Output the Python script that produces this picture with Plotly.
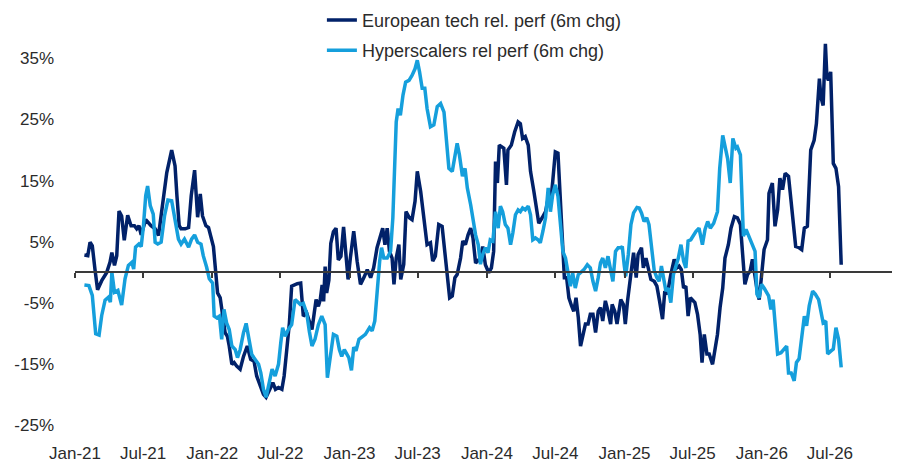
import plotly.graph_objects as go

# European tech relative performance, 6m change (%)
EU_DATES = [
    "2021-01-26", "2021-02-04", "2021-02-10", "2021-02-16", "2021-02-23", "2021-03-02", "2021-03-13",
    "2021-03-26", "2021-04-04", "2021-04-09", "2021-04-16", "2021-04-22", "2021-04-28", "2021-05-05",
    "2021-05-12", "2021-05-21", "2021-05-30", "2021-06-08", "2021-06-14", "2021-06-20", "2021-06-26",
    "2021-07-08", "2021-07-22", "2021-08-02", "2021-08-11", "2021-08-21", "2021-09-02", "2021-09-15",
    "2021-09-24", "2021-09-29", "2021-10-05", "2021-10-10", "2021-10-21", "2021-10-30", "2021-11-06",
    "2021-11-15", "2021-11-23", "2021-11-30", "2021-12-06", "2021-12-15", "2021-12-22", "2022-01-04",
    "2022-01-11", "2022-01-15", "2022-01-22", "2022-01-29", "2022-02-04", "2022-02-10", "2022-02-15",
    "2022-02-22", "2022-02-28", "2022-03-07", "2022-03-16", "2022-03-25", "2022-04-04", "2022-04-13",
    "2022-04-22", "2022-04-29", "2022-05-08", "2022-05-17", "2022-05-24", "2022-06-02", "2022-06-11",
    "2022-06-18", "2022-06-26", "2022-07-05", "2022-07-11", "2022-07-18", "2022-07-25", "2022-07-31",
    "2022-08-07", "2022-08-15", "2022-08-24", "2022-08-31", "2022-09-09", "2022-09-16", "2022-09-23",
    "2022-09-29", "2022-10-04", "2022-10-10", "2022-10-15", "2022-10-20", "2022-10-24", "2022-10-28",
    "2022-11-01", "2022-11-07", "2022-11-12", "2022-11-19", "2022-11-26", "2022-12-02", "2022-12-09",
    "2022-12-16", "2022-12-28", "2023-01-03", "2023-01-12", "2023-01-21", "2023-01-30", "2023-02-08",
    "2023-02-17", "2023-02-26", "2023-03-06", "2023-03-15", "2023-03-24", "2023-03-30", "2023-04-05",
    "2023-04-11", "2023-04-17", "2023-04-24", "2023-04-29", "2023-05-05", "2023-05-12", "2023-05-17",
    "2023-05-25", "2023-05-31", "2023-06-09", "2023-06-16", "2023-06-24", "2023-06-30", "2023-07-09",
    "2023-07-17", "2023-07-26", "2023-08-04", "2023-08-10", "2023-08-17", "2023-08-26", "2023-09-04",
    "2023-09-11", "2023-09-18", "2023-09-24", "2023-10-01", "2023-10-08", "2023-10-14", "2023-10-23",
    "2023-10-29", "2023-11-05", "2023-11-12", "2023-11-19", "2023-11-25", "2023-12-02", "2023-12-15",
    "2023-12-21", "2023-12-28", "2024-01-06", "2024-01-13", "2024-01-19", "2024-01-24", "2024-01-29",
    "2024-02-03", "2024-02-09", "2024-02-15", "2024-02-22", "2024-02-26", "2024-03-06", "2024-03-15",
    "2024-03-24", "2024-03-30", "2024-04-05", "2024-04-12", "2024-04-20", "2024-04-26", "2024-05-05",
    "2024-05-11", "2024-05-18", "2024-05-27", "2024-06-05", "2024-06-12", "2024-06-18", "2024-06-24",
    "2024-07-01", "2024-07-08", "2024-07-15", "2024-07-21", "2024-07-25", "2024-07-31", "2024-08-06",
    "2024-08-13", "2024-08-19", "2024-08-25", "2024-08-31", "2024-09-06", "2024-09-12", "2024-09-19",
    "2024-09-26", "2024-10-02", "2024-10-09", "2024-10-16", "2024-10-23", "2024-10-29", "2024-11-04",
    "2024-11-11", "2024-11-18", "2024-11-25", "2024-11-29", "2024-12-06", "2024-12-12", "2024-12-22",
    "2024-12-29", "2025-01-03", "2025-01-09", "2025-01-16", "2025-01-25", "2025-02-01", "2025-02-06",
    "2025-02-15", "2025-02-20", "2025-02-27", "2025-03-05", "2025-03-12", "2025-03-21", "2025-03-28",
    "2025-04-04", "2025-04-12", "2025-04-18", "2025-04-25", "2025-05-04", "2025-05-13", "2025-05-20",
    "2025-05-26", "2025-06-01", "2025-06-07", "2025-06-13", "2025-06-19", "2025-06-25", "2025-07-01",
    "2025-07-07", "2025-07-14", "2025-07-21", "2025-07-26", "2025-08-01", "2025-08-08", "2025-08-14",
    "2025-08-23", "2025-08-29", "2025-09-05", "2025-09-12", "2025-09-19", "2025-09-25", "2025-10-04",
    "2025-10-11", "2025-10-20", "2025-10-28", "2025-11-05", "2025-11-11", "2025-11-17", "2025-11-24",
    "2025-12-01", "2025-12-07", "2025-12-14", "2025-12-21", "2025-12-25", "2026-01-01", "2026-01-07",
    "2026-01-16", "2026-01-20", "2026-01-29", "2026-02-05", "2026-02-12", "2026-02-18", "2026-02-25",
    "2026-03-04", "2026-03-13", "2026-03-19", "2026-03-25", "2026-04-01", "2026-04-10", "2026-04-17",
    "2026-04-24", "2026-05-02", "2026-05-11", "2026-05-20", "2026-05-26", "2026-06-03", "2026-06-07",
    "2026-06-13", "2026-06-19", "2026-06-23", "2026-06-27", "2026-07-03", "2026-07-10", "2026-07-17",
    "2026-07-24", "2026-07-31",
]
EU_VALUES = [
    2.8, 2.7, 4.9, 4.3, 0.5, -2.9, -1.4,
    -0.1, 1.6, 3.2, 1.1, 2.7, 10.0, 9.2,
    5.2, 9.3, 7.6, 7.6, 7.1, 7.6, 6.1,
    8.6, 7.6, 7.1, 6.0, 10.3, 16.3, 20.0,
    17.4, 12.5, 7.6, 7.1, 7.1, 7.3, 12.5,
    16.7, 9.0, 12.8, 9.2, 7.6, 7.3, 4.2,
    -0.7, -3.4, -4.2, -7.2, -9.9, -10.5, -12.1,
    -15.1, -14.8, -15.4, -15.9, -13.8, -12.1, -14.3,
    -14.6, -17.0, -18.6, -20.0, -20.5, -19.2, -18.1,
    -19.2, -18.9, -19.2, -17.0, -12.7, -8.3, -2.3,
    -2.1, -1.9, -1.8, -7.2, -6.7, -8.3, -9.4,
    -6.7, -4.5, -5.6, -4.5, -2.1, -4.8, 0.9,
    -3.4, -1.3, 4.7, 6.6, 7.2, 2.0, 2.6,
    7.4, -1.2, 2.3, 6.7, 1.8, -2.0, -0.9,
    0.4, -0.9, 0.7, 4.0, 6.1, 7.2, 4.5,
    7.2, 3.4, 2.3, -2.0, 2.3, 4.5, -1.2,
    1.3, 9.9, 8.9, 8.6, 11.6, 16.5, 13.2,
    8.9, 4.5, 4.8, 1.8, 2.6, 7.8, 7.5,
    2.9, -0.4, -4.2, -3.9, -0.9, -0.4, 2.3,
    5.1, 4.5, 6.1, 7.2, 5.6, 1.5, 2.3,
    4.2, 1.2, -0.1, 0.7, 3.4, 18.1, 14.6,
    20.8, 20.5, 20.3, 14.3, 20.0, 20.8, 23.0,
    24.6, 24.3, 21.9, 22.2, 20.8, 16.5, 13.2,
    10.5, 8.0, 8.9, 9.9, 12.1, 11.0, 14.8,
    19.7, 19.5, 11.0, 3.4, -0.9, -0.9, -4.2,
    -5.5, -6.4, -4.2, -7.4, -12.1, -10.7, -8.5,
    -8.5, -6.9, -6.9, -9.9, -6.4, -5.8, -8.0,
    -4.7, -6.4, -8.5, -5.3, -6.4, -8.5, -4.5,
    -5.3, -8.5, -4.7, -0.9, 3.2, -0.9, 2.9,
    4.0, 0.7, 2.3, 0.7, -1.2, -1.5, -2.3,
    -4.7, -7.7, -3.1, -3.6, -0.4, 2.1, 0.7,
    1.0, 0.4, -2.6, -2.3, -7.2, -4.2, -4.7,
    -5.0, -6.9, -10.2, -14.8, -10.2, -13.4, -13.4,
    -15.1, -12.4, -10.2, -5.8, -2.6, 2.3, 4.5,
    7.2, 9.1, 8.9, 7.8, 2.9, -2.0, -0.4,
    0.2, 2.1, -0.9, -3.6, -4.5, -0.7, 3.7,
    5.3, 12.9, 14.6, 7.5, 10.2, 15.4, 13.5,
    16.2, 15.7, 12.4, 8.0, 4.2, 4.0, 3.7,
    7.2, 7.5, 20.0, 21.6, 24.3, 31.7, 28.7,
    27.3, 37.4, 32.0, 31.4, 32.8, 17.8, 17.0,
    14.0, 1.2,
]

# Hyperscalers relative performance, 6m change (%)
HS_DATES = [
    "2021-01-26", "2021-02-07", "2021-02-16", "2021-02-25", "2021-03-06", "2021-03-13", "2021-03-22",
    "2021-03-31", "2021-04-05", "2021-04-09", "2021-04-16", "2021-04-25", "2021-05-05", "2021-05-14",
    "2021-05-23", "2021-06-01", "2021-06-06", "2021-06-11", "2021-06-20", "2021-06-26", "2021-07-02",
    "2021-07-08", "2021-07-13", "2021-07-20", "2021-07-28", "2021-08-02", "2021-08-09", "2021-08-18",
    "2021-08-27", "2021-09-05", "2021-09-15", "2021-09-24", "2021-10-03", "2021-10-10", "2021-10-19",
    "2021-10-30", "2021-11-07", "2021-11-15", "2021-11-23", "2021-12-02", "2021-12-08", "2021-12-17",
    "2021-12-24", "2022-01-02", "2022-01-06", "2022-01-13", "2022-01-20", "2022-01-26", "2022-02-01",
    "2022-02-08", "2022-02-15", "2022-02-22", "2022-03-03", "2022-03-09", "2022-03-16", "2022-03-25",
    "2022-04-01", "2022-04-08", "2022-04-16", "2022-04-25", "2022-05-04", "2022-05-10", "2022-05-17",
    "2022-05-24", "2022-06-02", "2022-06-09", "2022-06-17", "2022-06-26", "2022-07-02", "2022-07-07",
    "2022-07-14", "2022-07-22", "2022-07-31", "2022-08-09", "2022-08-15", "2022-08-23", "2022-08-31",
    "2022-09-09", "2022-09-16", "2022-09-23", "2022-10-01", "2022-10-10", "2022-10-19", "2022-10-28",
    "2022-11-03", "2022-11-10", "2022-11-19", "2022-11-28", "2022-12-05", "2022-12-11", "2022-12-18",
    "2022-12-30", "2023-01-06", "2023-01-12", "2023-01-18", "2023-01-26", "2023-02-03", "2023-02-12",
    "2023-02-23", "2023-03-02", "2023-03-09", "2023-03-15", "2023-03-22", "2023-03-27", "2023-04-02",
    "2023-04-11", "2023-04-20", "2023-04-26", "2023-05-01", "2023-05-05", "2023-05-10", "2023-05-16",
    "2023-05-23", "2023-05-30", "2023-06-08", "2023-06-16", "2023-06-24", "2023-06-30", "2023-07-06",
    "2023-07-13", "2023-07-20", "2023-07-26", "2023-08-04", "2023-08-13", "2023-08-22", "2023-08-31",
    "2023-09-09", "2023-09-15", "2023-09-22", "2023-10-01", "2023-10-08", "2023-10-14", "2023-10-20",
    "2023-10-28", "2023-11-04", "2023-11-10", "2023-11-19", "2023-11-25", "2023-12-02", "2023-12-09",
    "2023-12-15", "2023-12-21", "2023-12-28", "2024-01-04", "2024-01-10", "2024-01-17", "2024-01-24",
    "2024-01-31", "2024-02-06", "2024-02-12", "2024-02-19", "2024-02-26", "2024-03-04", "2024-03-10",
    "2024-03-17", "2024-03-24", "2024-03-30", "2024-04-05", "2024-04-12", "2024-04-20", "2024-04-26",
    "2024-05-02", "2024-05-09", "2024-05-16", "2024-05-22", "2024-05-29", "2024-06-05", "2024-06-12",
    "2024-06-18", "2024-06-24", "2024-07-01", "2024-07-08", "2024-07-15", "2024-07-21", "2024-07-28",
    "2024-08-04", "2024-08-10", "2024-08-16", "2024-08-23", "2024-08-31", "2024-09-06", "2024-09-15",
    "2024-09-24", "2024-10-02", "2024-10-09", "2024-10-16", "2024-10-23", "2024-10-29", "2024-11-04",
    "2024-11-11", "2024-11-18", "2024-11-25", "2024-12-01", "2024-12-08", "2024-12-15", "2024-12-22",
    "2024-12-26", "2024-12-31", "2025-01-04", "2025-01-11", "2025-01-18", "2025-01-25", "2025-02-03",
    "2025-02-09", "2025-02-15", "2025-02-22", "2025-03-01", "2025-03-07", "2025-03-14", "2025-03-21",
    "2025-03-28", "2025-04-03", "2025-04-09", "2025-04-15", "2025-04-21", "2025-04-27", "2025-05-04",
    "2025-05-11", "2025-05-17", "2025-05-24", "2025-05-31", "2025-06-07", "2025-06-13", "2025-06-19",
    "2025-06-26", "2025-07-03", "2025-07-10", "2025-07-18", "2025-07-27", "2025-08-03", "2025-08-10",
    "2025-08-17", "2025-08-26", "2025-09-05", "2025-09-11", "2025-09-19", "2025-09-25", "2025-10-02",
    "2025-10-09", "2025-10-16", "2025-10-24", "2025-10-28", "2025-11-05", "2025-11-09", "2025-11-13",
    "2025-11-20", "2025-11-28", "2025-12-07", "2025-12-14", "2025-12-19", "2025-12-25", "2025-12-31",
    "2026-01-07", "2026-01-19", "2026-01-25", "2026-01-31", "2026-02-05", "2026-02-12", "2026-02-21",
    "2026-03-01", "2026-03-08", "2026-03-13", "2026-03-20", "2026-03-28", "2026-04-03", "2026-04-10",
    "2026-04-17", "2026-04-24", "2026-04-30", "2026-05-07", "2026-05-16", "2026-05-23", "2026-06-01",
    "2026-06-07", "2026-06-13", "2026-06-20", "2026-06-25", "2026-07-04", "2026-07-10", "2026-07-17",
    "2026-07-24", "2026-07-31",
]
HS_VALUES = [
    -2.1, -2.2, -3.8, -10.1, -10.3, -7.1, -4.6,
    -4.1, -4.9, 0.0, -3.3, -3.0, -5.4, -1.1,
    1.1, 1.6, 0.5, 4.1, 4.6, 4.2, 7.6,
    12.5, 14.1, 10.9, 9.5, 4.9, 4.6, 4.9,
    9.2, 11.8, 11.7, 8.2, 5.4, 4.6, 5.4,
    4.1, 5.4, 6.1, 4.9, 4.6, 2.7, 0.8,
    -1.1, -1.8, -7.2, -7.5, -7.2, -11.0, -6.1,
    -8.3, -9.4, -12.1, -12.7, -14.0, -12.7, -9.9,
    -8.4, -10.8, -13.5, -14.3, -15.1, -16.5, -19.2,
    -20.5, -18.1, -15.9, -17.0, -15.1, -11.6, -9.1,
    -10.5, -9.4, -8.6, -4.5, -4.8, -5.3, -5.1,
    -6.7, -9.7, -12.1, -11.0, -8.6, -7.2, -8.6,
    -17.3, -13.8, -10.2, -10.5, -12.7, -13.8, -12.7,
    -14.0, -16.1, -12.3, -12.9, -11.0, -10.7, -10.2,
    -9.1, -9.6, -8.0, -3.1, 1.8, 4.0, 2.3,
    2.3, 3.4, 8.9, 20.3, 24.6, 26.8, 25.7,
    29.0, 31.1, 31.4, 32.2, 33.3, 34.7, 32.8,
    30.1, 30.1, 26.8, 23.8, 24.1, 27.1, 27.6,
    26.2, 21.9, 17.0, 16.5, 19.2, 21.1, 19.2,
    15.7, 17.0, 13.8, 11.0, 8.3, 6.1, 4.5,
    1.3, 2.9, 4.0, 3.2, 5.3, 5.1, 9.9,
    7.2, 10.8, 9.9, 7.8, 7.2, 4.5, 6.4,
    9.4, 10.2, 9.9, 10.5, 10.2, 10.8, 9.4,
    5.3, 5.6, 5.3, 4.8, 6.7, 8.9, 13.8,
    9.9, 12.7, 14.3, 12.4, 7.8, 3.4, 2.3,
    -0.4, -2.3, -0.1, -2.6, -0.4, -0.1, 0.4,
    1.2, 0.7, -1.5, -3.1, -0.9, 1.5, 2.3,
    0.7, 2.6, 0.7, -1.5, 3.4, 4.0, 4.0,
    4.2, 1.2, -0.7, 2.9, 7.8, 9.7, 10.6,
    10.5, 9.7, 8.3, 8.9, 7.8, 4.5, 0.2,
    -0.9, -1.5, 1.0, -0.9, -3.1, -2.6, -5.0,
    -0.4, 0.7, 2.3, 4.5, 1.8, 0.7, 5.1,
    5.3, 6.1, 6.7, 7.2, 4.5, 7.0, 8.3,
    7.2, 8.0, 9.9, 17.0, 22.4, 20.3, 18.6,
    14.6, 21.9, 20.3, 20.5, 19.2, 11.6, 5.9,
    7.0, 5.9, 4.5, 3.4, -3.6, -4.2, -2.0,
    -2.6, -3.9, -6.1, -4.5, -8.3, -13.4, -13.2,
    -12.6, -12.1, -16.5, -16.5, -17.8, -14.8, -14.2,
    -10.4, -7.2, -8.8, -5.5, -3.1, -3.6, -4.5,
    -6.1, -8.3, -8.0, -13.4, -12.9, -12.6, -9.1,
    -11.0, -15.6,
]

EU_NAME = "European tech rel. perf (6m chg)"
HS_NAME = "Hyperscalers rel perf (6m chg)"

Y_TICKS = [-25, -15, -5, 5, 15, 25, 35]
Y_TICK_TEXT = ["-25%", "-15%", "-5%", "5%", "15%", "25%", "35%"]

X_RANGE = ["2021-01-01", "2026-12-29"]
Y_RANGE = [-27, 39]

DARK = "#012169"
LIGHT = "#159FDC"
FONT = dict(family="Liberation Sans, Arial, sans-serif", size=17, color="#2b2b2b")
LEGEND_FONT = dict(family="Liberation Sans, Arial, sans-serif", size=18, color="#2b2b2b")

fig = go.Figure()
fig.add_trace(go.Scatter(x=EU_DATES, y=EU_VALUES, name=EU_NAME, mode="lines",
                         line=dict(color=DARK, width=3.5), legendgroup="eu"))
fig.add_trace(go.Scatter(x=HS_DATES, y=HS_VALUES, name=HS_NAME, mode="lines",
                         line=dict(color=LIGHT, width=3.5), legendgroup="hs"))
# empty trace so the zero-line axis (with its tick marks) is drawn
fig.add_trace(go.Scatter(x=[], y=[], xaxis="x2", showlegend=False, hoverinfo="skip"))

zero_pos = (0 - Y_RANGE[0]) / (Y_RANGE[1] - Y_RANGE[0])

# the page body adds ~8px of margin, so the margins here are shifted to compensate
fig.update_layout(
    width=900, height=466,
    margin=dict(l=67, r=10, t=26, b=37, autoexpand=False),
    paper_bgcolor="white", plot_bgcolor="white",
    font=FONT,
    showlegend=True,
    legend=dict(x=0.300, y=1.08, xanchor="left", yanchor="top",
                bgcolor="rgba(0,0,0,0)", font=LEGEND_FONT, tracegroupgap=4),
    xaxis=dict(range=X_RANGE, type="date", tick0="2021-01-01", dtick="M6",
               tickformat="%b-%y", showgrid=False, zeroline=False, showline=False,
               ticks="", ticklabelstandoff=4, tickfont=FONT),
    xaxis2=dict(range=X_RANGE, type="date", tick0="2021-01-01", dtick="M6",
                overlaying="x", anchor="free", position=zero_pos,
                showline=True, linecolor="#3a3a3a", linewidth=1.5,
                ticks="outside", ticklen=5, tickwidth=1.5, tickcolor="#3a3a3a",
                showticklabels=False, showgrid=False, zeroline=False),
    yaxis=dict(range=Y_RANGE, tickvals=Y_TICKS, ticktext=Y_TICK_TEXT,
               showgrid=False, zeroline=False, showline=False, ticks="",
               ticklabelstandoff=20, tickfont=FONT),
)

fig.write_html("out.html")
